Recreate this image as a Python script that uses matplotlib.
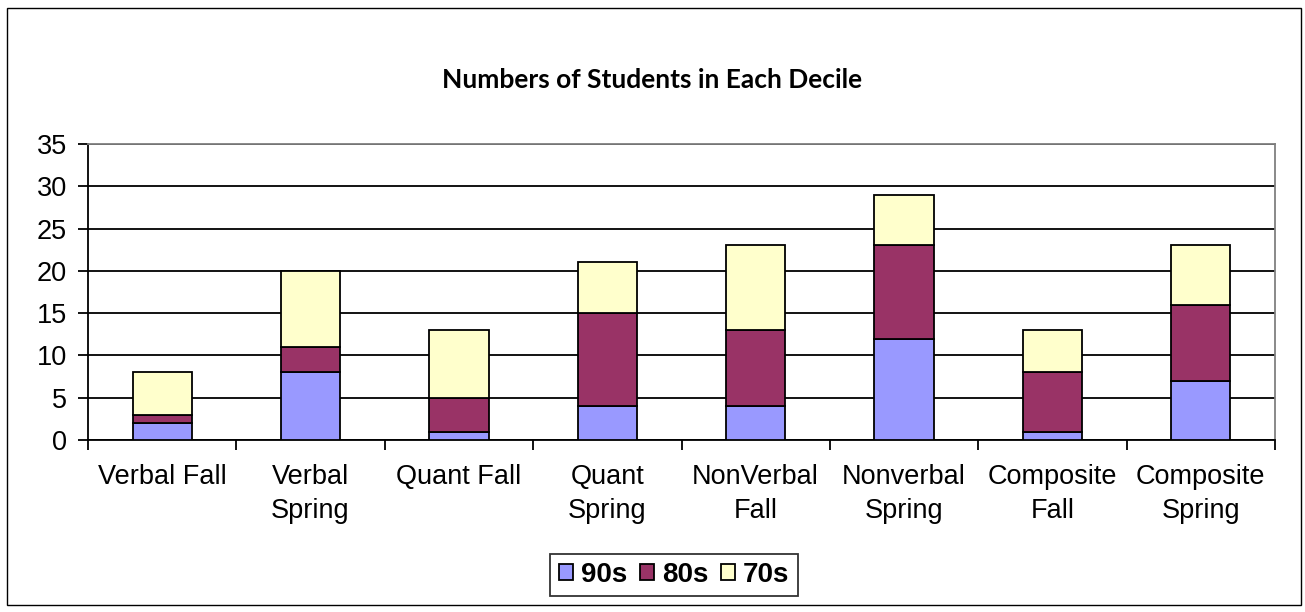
import matplotlib.pyplot as plt
from matplotlib.patches import Rectangle
from matplotlib.ticker import FixedLocator
import numpy as np

# Categories and stacked series
categories = ["Verbal Fall", "Verbal\nSpring", "Quant Fall", "Quant\nSpring",
              "NonVerbal\nFall", "Nonverbal\nSpring", "Composite\nFall",
              "Composite\nSpring"]
s90 = [2, 8, 1, 4, 4, 12, 1, 7]
s80 = [1, 3, 4, 11, 9, 11, 7, 9]
s70 = [5, 9, 8, 6, 10, 6, 5, 7]

COLOR_90 = '#9999FF'
COLOR_80 = '#993366'
COLOR_70 = '#FFFFCC'

plt.rcParams['font.family'] = ['Liberation Sans', 'DejaVu Sans']

fig = plt.figure(figsize=(13.05, 6.12), dpi=100)
ax = fig.add_axes([88 / 1305, 1 - 440 / 612, (1275 - 88) / 1305, (440 - 144) / 612])

# chart area border
fig.patches.append(Rectangle((7 / 1305, 1 - 605 / 612), (1301 - 7) / 1305, (605 - 8) / 612,
                             transform=fig.transFigure, fill=False,
                             edgecolor='black', linewidth=1))

x = np.arange(len(categories))
bottom80 = np.array(s90)
bottom70 = bottom80 + np.array(s80)
w = 0.4
ax.bar(x, s90, w, color=COLOR_90, edgecolor='black', linewidth=1.3, label='90s', zorder=3)
ax.bar(x, s80, w, bottom=bottom80, color=COLOR_80, edgecolor='black', linewidth=1.3,
       label='80s', zorder=3)
ax.bar(x, s70, w, bottom=bottom70, color=COLOR_70, edgecolor='black', linewidth=1.3,
       label='70s', zorder=3)

ax.set_xlim(-0.5, len(categories) - 0.5)
ax.set_ylim(0, 35)
ax.set_yticks(range(0, 36, 5))
ax.yaxis.grid(True, color='black', linewidth=1.3, zorder=0)
ax.set_axisbelow(True)

ax.set_xticks(x)
ax.set_xticklabels(categories, fontsize=19.5, linespacing=1.4)
ax.xaxis.set_minor_locator(FixedLocator(np.arange(-0.5, len(categories), 1)))
ax.tick_params(axis='x', which='major', length=0, pad=17)
ax.tick_params(axis='x', which='minor', length=7, width=1.3, direction='out')
ax.tick_params(axis='y', which='major', length=7, width=1.3, direction='out',
               labelsize=19.5, pad=8)

for side in ['top', 'right']:
    ax.spines[side].set_color('#808080')
    ax.spines[side].set_linewidth(1.3)
for side in ['left', 'bottom']:
    ax.spines[side].set_color('black')
    ax.spines[side].set_linewidth(1.3)

fig.text(0.5, 1 - 80 / 612, "Numbers of Students in Each Decile",
         ha='center', va='center', fontsize=19, fontweight='bold',
         family=['Lato', 'DejaVu Sans'])

leg = ax.legend(loc='center', bbox_to_anchor=(674 / 1305, 1 - 575 / 612),
                bbox_transform=fig.transFigure, ncol=3, frameon=True, fancybox=False,
                prop={'weight': 'bold', 'size': 20}, handlelength=0.5, handleheight=0.5,
                handletextpad=0.3, columnspacing=0.45, borderpad=0.3)
leg.get_frame().set_edgecolor('black')
leg.get_frame().set_linewidth(1.3)

plt.savefig('out.png', dpi=100)
